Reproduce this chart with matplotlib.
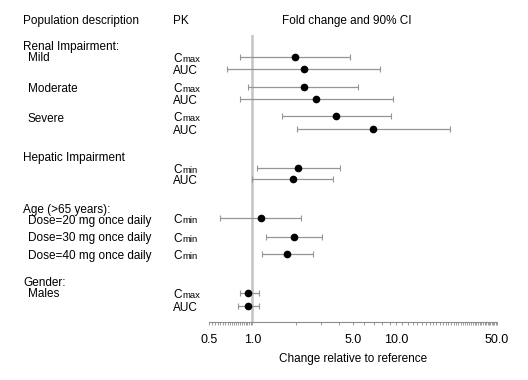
import matplotlib
matplotlib.use('Agg')
import matplotlib.pyplot as plt
import matplotlib.transforms as mtransforms
import numpy as np

plt.rcParams['font.family'] = ['Liberation Sans', 'DejaVu Sans']

# data
pk = ['Cmax', 'AUC', 'Cmax', 'AUC', 'Cmax', 'AUC', 'Cmin', 'AUC',
      'Cmin', 'Cmin', 'Cmin', 'Cmax', 'AUC']
est = [1.98, 2.27, 2.27, 2.78, 3.79, 6.9, 2.07, 1.92, 1.14, 1.95, 1.73, 0.94, 0.94]
lo = [0.82, 0.67, 0.94, 0.82, 1.6, 2.04, 1.08, 1.0, 0.6, 1.25, 1.17, 0.82, 0.80]
hi = [4.8, 7.7, 5.45, 9.5, 9.2, 23.7, 4.06, 3.63, 2.18, 3.04, 2.63, 1.11, 1.12]
major_ticks = [0.5, 1.0, 5.0, 10.0, 50.0]
pop_labels = ['Renal Impairment:', 'Mild', 'Moderate', 'Severe', 'Hepatic Impairment',
              'Age (>65 years):', 'Dose=20 mg once daily', 'Dose=30 mg once daily',
              'Dose=40 mg once daily', 'Gender:', 'Males']

# layout (pixel rows, top = 0)
row_y = [57, 69, 87, 99, 116, 129, 168, 179, 218, 237, 254, 293, 306]
pop_y = [47, 58, 89, 119, 158, 210, 221, 238, 256, 283, 294]
pop_indent = [0, 1, 1, 1, 0, 0, 1, 1, 1, 0, 1]

W, H = 528, 380
fig = plt.figure(figsize=(W / 100, H / 100), dpi=100)
x0, x1, ytop, ybot = 209, 497, 35, 322
ax = fig.add_axes([x0 / W, 1 - ybot / H, (x1 - x0) / W, (ybot - ytop) / H])
ax.set_xscale('log')
ax.set_xlim(0.5, 50)
ax.set_ylim(ybot, ytop)

ax.axvline(1.0, color='#c4c4c4', lw=1.8, zorder=1)

est_a = np.array(est)
err = [est_a - np.array(lo), np.array(hi) - est_a]
ax.errorbar(est, row_y, xerr=err, fmt='o', color='black', ms=4.5,
            ecolor='#959595', elinewidth=0.9, capsize=2.2, capthick=0.8, zorder=3)

for s in ['top', 'right', 'left']:
    ax.spines[s].set_visible(False)
ax.spines['bottom'].set_color('#8c8c8c')
ax.spines['bottom'].set_linewidth(0.8)
ax.set_yticks([])

minor = list(np.arange(0.525, 1.0, 0.025)) + list(range(2, 10)) + list(range(11, 50))
ax.set_xticks(major_ticks)
ax.set_xticklabels(['%.1f' % v for v in major_ticks], fontsize=9)
ax.set_xticks(minor, minor=True)
ax.xaxis.set_minor_formatter(matplotlib.ticker.NullFormatter())
ax.tick_params(axis='x', which='both', color='#8c8c8c', direction='out', width=0.6)
ax.tick_params(axis='x', which='major', length=2.5, pad=6)
ax.tick_params(axis='x', which='minor', length=2)
ax.set_xlabel('Change relative to reference', fontsize=8.5, labelpad=5)

tr = mtransforms.blended_transform_factory(fig.transFigure, ax.transData)
fs = 8.5

fig.text(23 / W, 1 - 21 / H, 'Population description', fontsize=fs, va='center')
fig.text(173 / W, 1 - 21 / H, 'PK', fontsize=fs, va='center')
fig.text(282 / W, 1 - 21 / H, 'Fold change and 90% CI', fontsize=fs, va='center')

for lab, y, ind in zip(pop_labels, pop_y, pop_indent):
    ax.text((23 + 5 * ind) / W, y, lab, transform=tr, fontsize=fs, va='center',
            clip_on=False)

for lab, y in zip(pk, row_y):
    base = y + 5
    if lab == 'AUC':
        ax.text(173 / W, base, 'AUC', transform=tr, fontsize=fs, va='baseline',
                clip_on=False)
    else:
        ax.text(173 / W, base, 'C', transform=tr, fontsize=fs, va='baseline',
                clip_on=False)
        ax.text(182 / W, base, lab[1:], transform=tr, fontsize=6.8, va='baseline',
                clip_on=False)

plt.savefig('out.png', dpi=100)
print("done")
